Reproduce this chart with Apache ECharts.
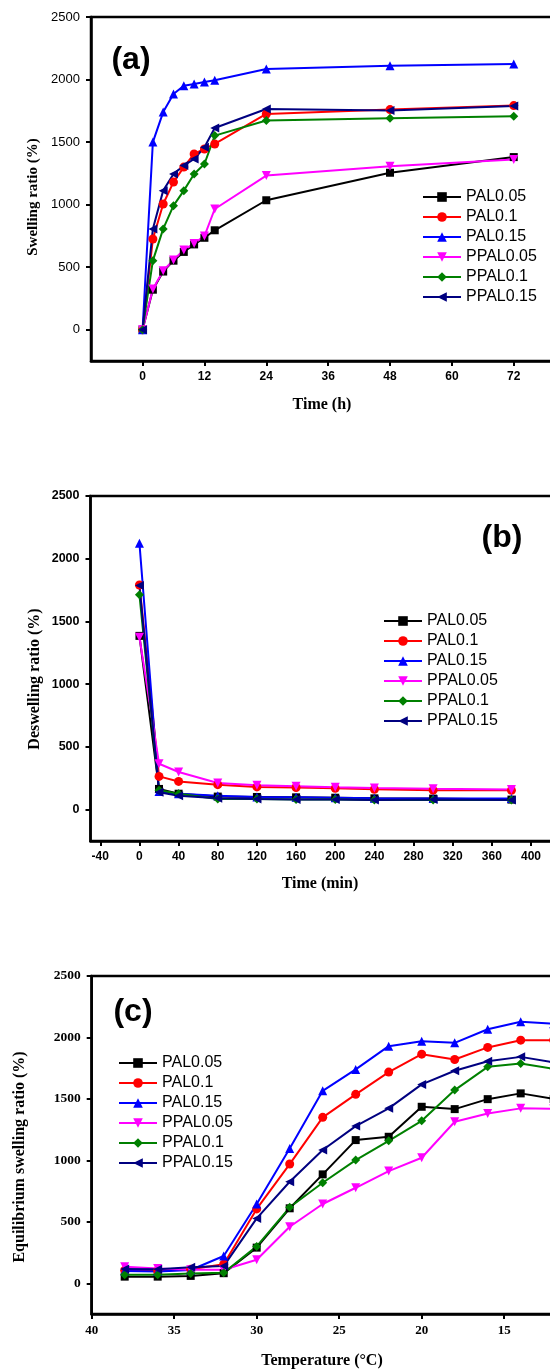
<!DOCTYPE html>
<html>
<head>
<meta charset="utf-8">
<script src="https://cdn.jsdelivr.net/npm/echarts@6/dist/echarts.min.js"></script>
<style>
  body { margin: 0; background: #fff; }
  #ch { width: 550px; height: 1370px; }
</style>
</head>
<body>
<div id="ch"></div>
<script>
// panel (a) swelling vs time (h)
var timeA = [0, 2, 4, 6, 8, 10, 12, 14, 24, 48, 72];
var aPAL005 = [0, 320, 465, 552, 622, 682, 735, 795, 1035, 1255, 1380];
var aPAL01 = [0, 725, 1005, 1180, 1300, 1405, 1445, 1485, 1725, 1760, 1792];
var aPAL015 = [0, 1500, 1740, 1885, 1950, 1965, 1980, 1995, 2085, 2110, 2125];
var aPPAL005 = [0, 325, 472, 557, 637, 690, 749, 965, 1232, 1307, 1360];
var aPPAL01 = [0, 552, 806, 992, 1112, 1245, 1325, 1552, 1672, 1690, 1706];
var aPPAL015 = [0, 806, 1112, 1245, 1312, 1365, 1459, 1613, 1765, 1752, 1789];

// panel (b) deswelling vs time (min)
var timeB = [0, 20, 40, 80, 120, 160, 200, 240, 300, 380];
var bPAL005 = [1385, 165, 127, 104, 101, 98, 95, 90, 88, 80];
var bPAL01 = [1791, 265, 225, 199, 181, 176, 170, 162, 155, 154];
var bPAL015 = [2123, 145, 127, 111, 101, 98, 95, 90, 88, 88];
var bPPAL005 = [1375, 366, 300, 212, 194, 186, 178, 173, 166, 160];
var bPPAL01 = [1712, 154, 127, 85, 85, 80, 80, 77, 77, 77];
var bPPAL015 = [1786, 138, 111, 91, 85, 80, 80, 77, 80, 77];

// panel (c) equilibrium swelling vs temperature
var tempC = [38, 36, 34, 32, 30, 28, 26, 24, 22, 20, 18, 16, 14, 12];
var cPAL005 = [54, 54, 60, 82, 290, 610, 886, 1165, 1192, 1436, 1417, 1498, 1545, 1500];
var cPAL01 = [105, 100, 115, 155, 605, 970, 1350, 1537, 1718, 1864, 1821, 1919, 1978, 1978];
var cPAL015 = [100, 95, 108, 222, 645, 1097, 1566, 1740, 1929, 1970, 1956, 2067, 2127, 2112];
var cPPAL005 = [135, 120, 110, 110, 192, 460, 645, 777, 913, 1021, 1314, 1382, 1423, 1420];
var cPPAL01 = [70, 70, 80, 85, 300, 618, 818, 1002, 1159, 1322, 1572, 1761, 1789, 1745];
var cPPAL015 = [116, 115, 130, 140, 528, 826, 1084, 1279, 1423, 1618, 1729, 1807, 1842, 1797];

var names = ['PAL0.05', 'PAL0.1', 'PAL0.15', 'PPAL0.05', 'PPAL0.1', 'PPAL0.15'];
var yTicks = [0, 500, 1000, 1500, 2000, 2500];
var xTicksA = [0, 12, 24, 36, 48, 60, 72];
var xTicksB = [-40, 0, 40, 80, 120, 160, 200, 240, 280, 320, 360, 400];
var xTicksC = [10, 15, 20, 25, 30, 35, 40];

window.onload = function() {
  var ch = echarts.init(document.getElementById('ch'));
  var colors = ['#000000', '#FF0000', '#0000FF', '#FF00FF', '#008000', '#000080'];
  var symbols = ['rect', 'circle', 'triangle', 'triangle', 'diamond', 'triangle'];
  var rotates = [0, 0, 0, 180, 0, 90];
  var sans = 'Liberation Sans', serif = 'Liberation Serif';

  function line(k, xs, ys, idx) {
    return {
      name: names[k],
      type: 'line',
      xAxisIndex: idx,
      yAxisIndex: idx,
      data: xs.map(function(x, i) { return [x, ys[i]]; }),
      symbol: symbols[k],
      symbolSize: k == 0 ? 8 : 9,
      symbolRotate: rotates[k],
      lineStyle: { color: colors[k], width: 2 },
      itemStyle: { color: colors[k] },
      animation: false
    };
  }

  function xAx(idx, min, max, ticks, font, inverse) {
    return {
      type: 'value', gridIndex: idx, min: min, max: max, inverse: !!inverse,
      axisLine: { show: true, onZero: false, lineStyle: { color: '#000', width: 2.5 } },
      axisTick: { show: true, length: 5, customValues: ticks, lineStyle: { color: '#000', width: 2 } },
      axisLabel: { customValues: ticks, margin: 10, color: '#000', fontFamily: font.f, fontWeight: font.w, fontSize: font.s,
        formatter: function(v) { return String(v); } },
      splitLine: { show: false }
    };
  }

  function yAx(idx, font) {
    return {
      type: 'value', gridIndex: idx, min: -250, max: 2500,
      axisLine: { show: true, onZero: false, lineStyle: { color: '#000', width: 2.5 } },
      axisTick: { show: true, length: 5, customValues: yTicks, lineStyle: { color: '#000', width: 2 } },
      axisLabel: { customValues: yTicks, margin: 11, color: '#000', fontFamily: font.f, fontWeight: font.w, fontSize: font.s,
        formatter: function(v) { return String(v); } },
      splitLine: { show: false }
    };
  }

  function legend(left, top) {
    return {
      data: names, orient: 'vertical', left: left, top: top,
      itemWidth: 38, itemHeight: 12, itemGap: 4, padding: 0,
      textStyle: { fontFamily: sans, fontSize: 16, color: '#000', lineHeight: 16 }
    };
  }

  function txt(x, y, s, font, rot) {
    return {
      type: 'text', x: x, y: y, rotation: rot || 0,
      style: { text: s, font: font, fill: '#000', align: 'center', verticalAlign: 'middle' }
    };
  }

  var series = [];
  [aPAL005, aPAL01, aPAL015, aPPAL005, aPPAL01, aPPAL015].forEach(function(d, k) { series.push(line(k, timeA, d, 0)); });
  [bPAL005, bPAL01, bPAL015, bPPAL005, bPPAL01, bPPAL015].forEach(function(d, k) { series.push(line(k, timeB, d, 1)); });
  [cPAL005, cPAL01, cPAL015, cPPAL005, cPPAL01, cPPAL015].forEach(function(d, k) { series.push(line(k, tempC, d, 2)); });

  var op = {
    animation: false,
    grid: [
      { left: 91, top: 17, width: 464, height: 344, show: true, borderColor: '#000', borderWidth: 2.5, outerBoundsMode: 'none' },
      { left: 90.5, top: 496, width: 465, height: 345, show: true, borderColor: '#000', borderWidth: 2.5, outerBoundsMode: 'none' },
      { left: 91.7, top: 976, width: 495, height: 338, show: true, borderColor: '#000', borderWidth: 2.5, outerBoundsMode: 'none' }
    ],
    xAxis: [
      xAx(0, -10, 80, xTicksA, { f: sans, w: 'bold', s: 12 }),
      xAx(1, -50, 425, xTicksB, { f: sans, w: 'bold', s: 12 }),
      xAx(2, 10, 40, xTicksC, { f: serif, w: 'bold', s: 13 }, true)
    ],
    yAxis: [
      yAx(0, { f: sans, w: 'normal', s: 13 }),
      yAx(1, { f: sans, w: 'bold', s: 12.5 }),
      yAx(2, { f: serif, w: 'bold', s: 13.5 })
    ],
    legend: [legend(422, 189), legend(383, 613), legend(118, 1055)],
    graphic: [
      txt(131, 60, '(a)', 'bold 32px "Liberation Sans"'),
      txt(502, 538, '(b)', 'bold 32px "Liberation Sans"'),
      txt(133, 1012, '(c)', 'bold 32px "Liberation Sans"'),
      txt(33, 197, 'Swelling ratio (%)', 'bold 15px "Liberation Serif"', Math.PI / 2),
      txt(35, 679, 'Deswelling ratio (%)', 'bold 16px "Liberation Serif"', Math.PI / 2),
      txt(20, 1157, 'Equilibrium swelling ratio (%)', 'bold 16px "Liberation Serif"', Math.PI / 2),
      txt(322, 405, 'Time (h)', 'bold 16px "Liberation Serif"'),
      txt(320, 884, 'Time (min)', 'bold 16px "Liberation Serif"'),
      txt(322, 1361, 'Temperature (°C)', 'bold 16px "Liberation Serif"')
    ],
    series: series
  };
  ch.setOption(op);
};
</script>
</body>
</html>
